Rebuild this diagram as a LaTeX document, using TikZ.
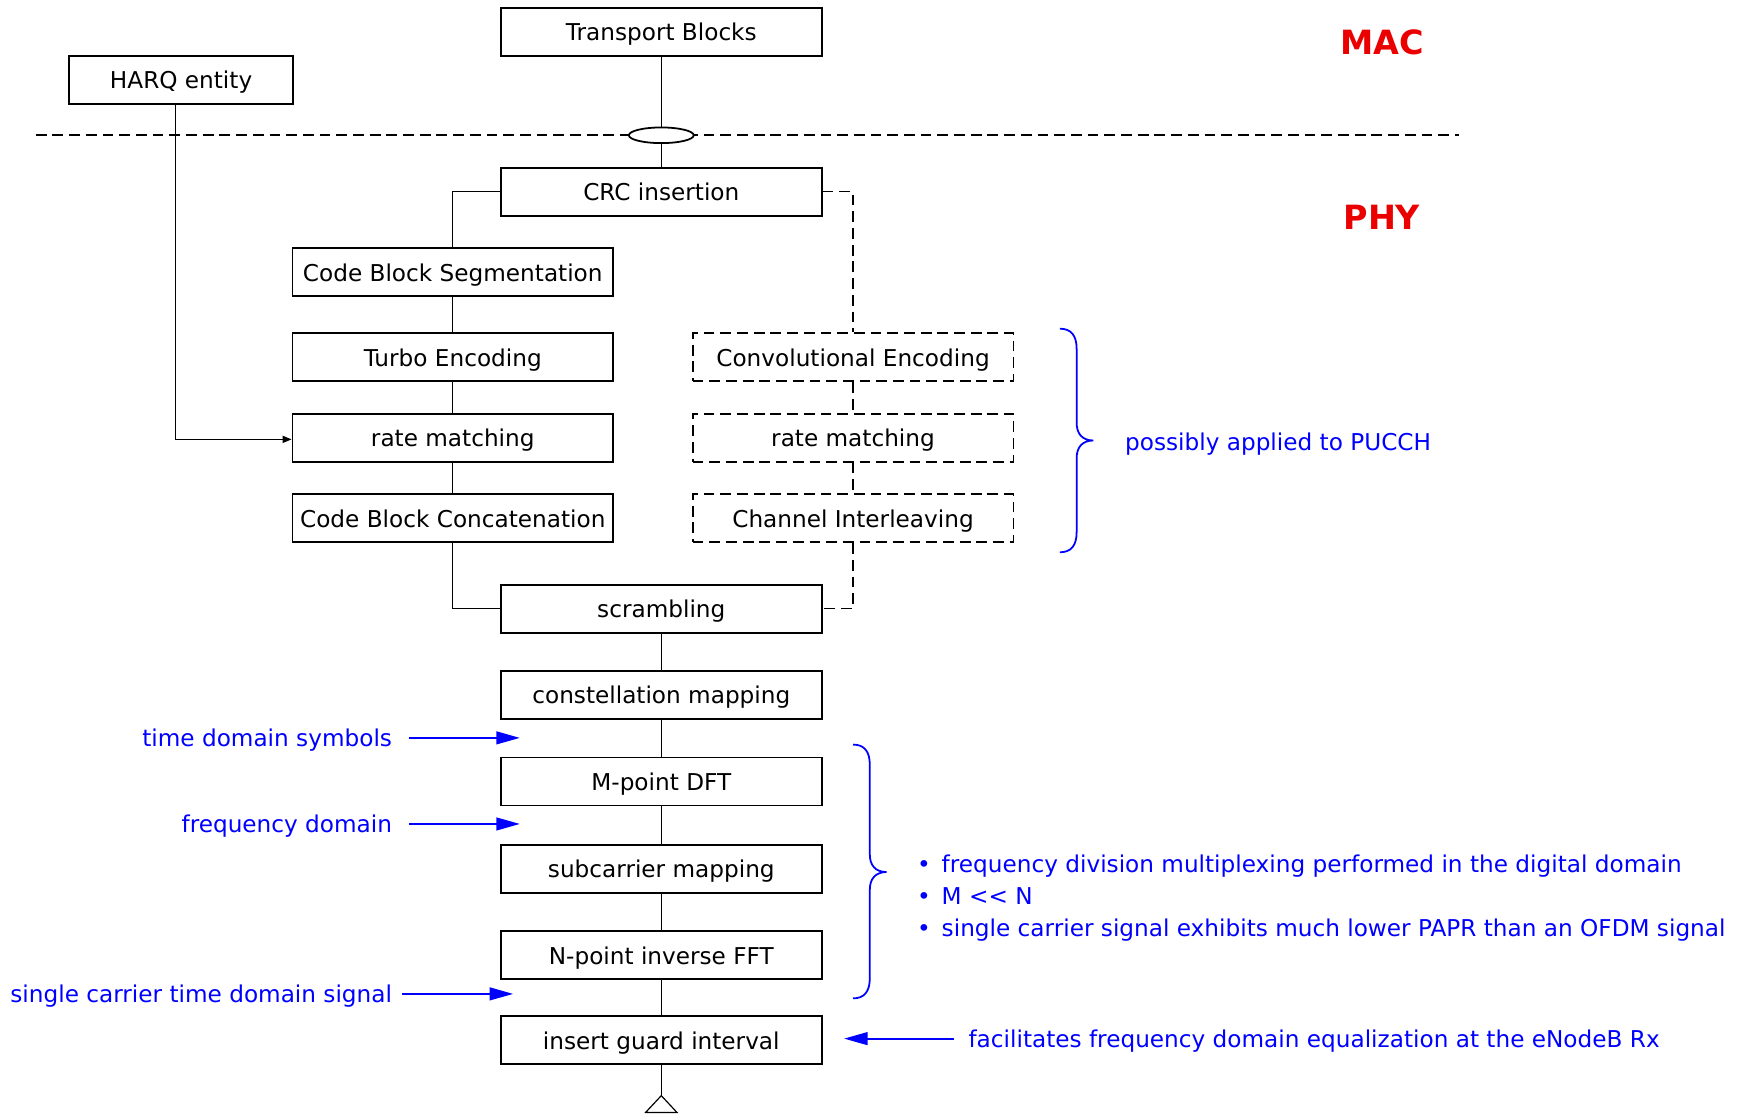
\documentclass[tikz,border=0pt]{standalone}
\usepackage{fontspec}
\setmainfont{DejaVu Sans}
\usetikzlibrary{shapes.geometric,arrows.meta}
\definecolor{noteblue}{RGB}{0,0,255}
\definecolor{layerred}{RGB}{235,0,0}

\begin{document}
\begin{tikzpicture}[x=0.02cm,y=-0.02cm,
  boxfont/.style={font=\fontsize{11.8}{16.4}\selectfont},
  stage/.style={draw,line width=0.9pt,minimum width=5.74cm,minimum height=0.86cm,
    inner sep=0pt,boxfont,text height=1em,text depth=0.1em},
  optstage/.style={stage,dash pattern=on 5.5pt off 3pt},
  link/.style={line width=0.6pt},
  optlink/.style={line width=0.6pt,dash pattern=on 5.5pt off 3pt},
  note/.style={text=noteblue,inner sep=0pt,boxfont,text height=1em,text depth=0.1em},
  note arrow/.style={draw=noteblue,line width=1pt,-{Triangle[length=12pt,width=6.5pt]}},
  brace/.style={draw=noteblue,line width=0.9pt},
  layer/.style={text=layerred,inner sep=0pt,font=\fontsize{17}{20}\selectfont\bfseries}
]
\useasboundingbox (0,0) rectangle (1568,998);

% layer boundary between MAC and PHY
\coordinate (bleft) at (32,121);
\coordinate (bright) at (1305,121);
\draw[optlink,line width=0.8pt] (bleft) -- (bright);
\node[draw,fill=white,ellipse,line width=0.9pt,minimum width=1.16cm,minimum height=0.28cm,inner sep=0pt] (sap) at (591.5,121) {};

\node[layer] (mac) at (1236,38) {MAC};
\node[layer] (phy) at (1236,194) {PHY};

% processing chain
\node[stage] (tb) at (591.5,28.5) {Transport Blocks};
\node[stage,minimum width=4cm] (harq) at (162,71.5) {HARQ entity};
\node[stage] (crc) at (591.5,171.5) {CRC insertion};
\node[stage] (cbs) at (405,243.5) {Code Block Segmentation};
\node[stage] (turbo) at (405,319.5) {Turbo Encoding};
\node[stage] (rm) at (405,391.5) {rate matching};
\node[stage] (cbc) at (405,463.5) {Code Block Concatenation};
\node[optstage] (conv) at (763,319.5) {Convolutional Encoding};
\node[optstage] (rm2) at (763,391.5) {rate matching};
\node[optstage] (ci) at (763,463.5) {Channel Interleaving};
\node[stage] (scr) at (591.5,544.5) {scrambling};
\node[stage] (cm) at (591.5,621.5) {constellation mapping};
\node[stage] (dft) at (591.5,699) {M-point DFT};
\node[stage] (sc) at (591.5,777) {subcarrier mapping};
\node[stage] (ifft) at (591.5,854.5) {N-point inverse FFT};
\node[stage] (gi) at (591.5,930.5) {insert guard interval};
\coordinate (term) at (591.5,980);

% connectors
\draw[link] (tb.south) -- (sap.north);
\draw[link] (sap.south) -- (crc.north);
\draw[link] (crc.west) -| (cbs.north);
\draw[link] (cbs) -- (turbo);
\draw[link] (turbo) -- (rm);
\draw[link] (rm) -- (cbc);
\draw[link] (cbc.south) |- (scr.west);
\draw[optlink] (crc.east) -| (conv.north);
\draw[optlink] (conv) -- (rm2);
\draw[optlink] (rm2) -- (ci);
\draw[optlink] (ci.south) |- (scr.east);
\draw[link] (scr) -- (cm);
\draw[link] (cm) -- (dft);
\draw[link] (dft) -- (sc);
\draw[link] (sc) -- (ifft);
\draw[link] (ifft) -- (gi);
\draw[link] (gi.south) -- (term);
\draw[link] (term) -- ++(-14,15) -- ++(28,0) -- cycle;
\draw[link,-{Triangle[length=4.5pt,width=3.6pt]}] ([xshift=-0.1cm]harq.south) |- ([yshift=-0.03cm]rm.west);

% annotations on the left
\node[note,anchor=east] (tds) at (351,660) {time domain symbols};
\coordinate (tdsend) at (465,660);
\draw[note arrow] ([xshift=0.3cm]tds.east) -- (tdsend);

\node[note,anchor=east] (fd) at (351,737) {frequency domain};
\coordinate (fdend) at (465,737);
\draw[note arrow] ([xshift=0.3cm]fd.east) -- (fdend);

\node[note,anchor=east] (sctd) at (351,889) {single carrier time domain signal};
\coordinate (sctdend) at (459,889);
\draw[note arrow] ([xshift=0.18cm]sctd.east) -- (sctdend);

% annotations on the right
\draw[brace] (948,294) .. controls (958,294) and (963,300) .. (963,312) -- (963,378)
  .. controls (963,388) and (968,394) .. (978,394)
  .. controls (968,394) and (963,400) .. (963,410) -- (963,476)
  .. controls (963,488) and (958,494) .. (948,494);
\node[note,anchor=west] (pucch) at (1006,395) {possibly applied to PUCCH};

\draw[brace] (763,666) .. controls (773,666) and (778,672) .. (778,684) -- (778,764)
  .. controls (778,774) and (783,780) .. (793,780)
  .. controls (783,780) and (778,786) .. (778,796) -- (778,875)
  .. controls (778,887) and (773,893) .. (763,893);
\node[note,anchor=west,align=left,text height=,text depth=] (facts) at (820,803.5)
  {\makebox[0.44cm][l]{\textbullet}frequency division multiplexing performed in the digital domain\\
   \makebox[0.44cm][l]{\textbullet}M {<}{<} N\\
   \makebox[0.44cm][l]{\textbullet}single carrier signal exhibits much lower PAPR than an OFDM signal};

\node[note,anchor=west] (fde) at (866,929) {facilitates frequency domain equalization at the eNodeB Rx};
\coordinate (fdeend) at (755,929);
\draw[note arrow] ([xshift=-0.26cm]fde.west) -- (fdeend);

\end{tikzpicture}
\end{document}
